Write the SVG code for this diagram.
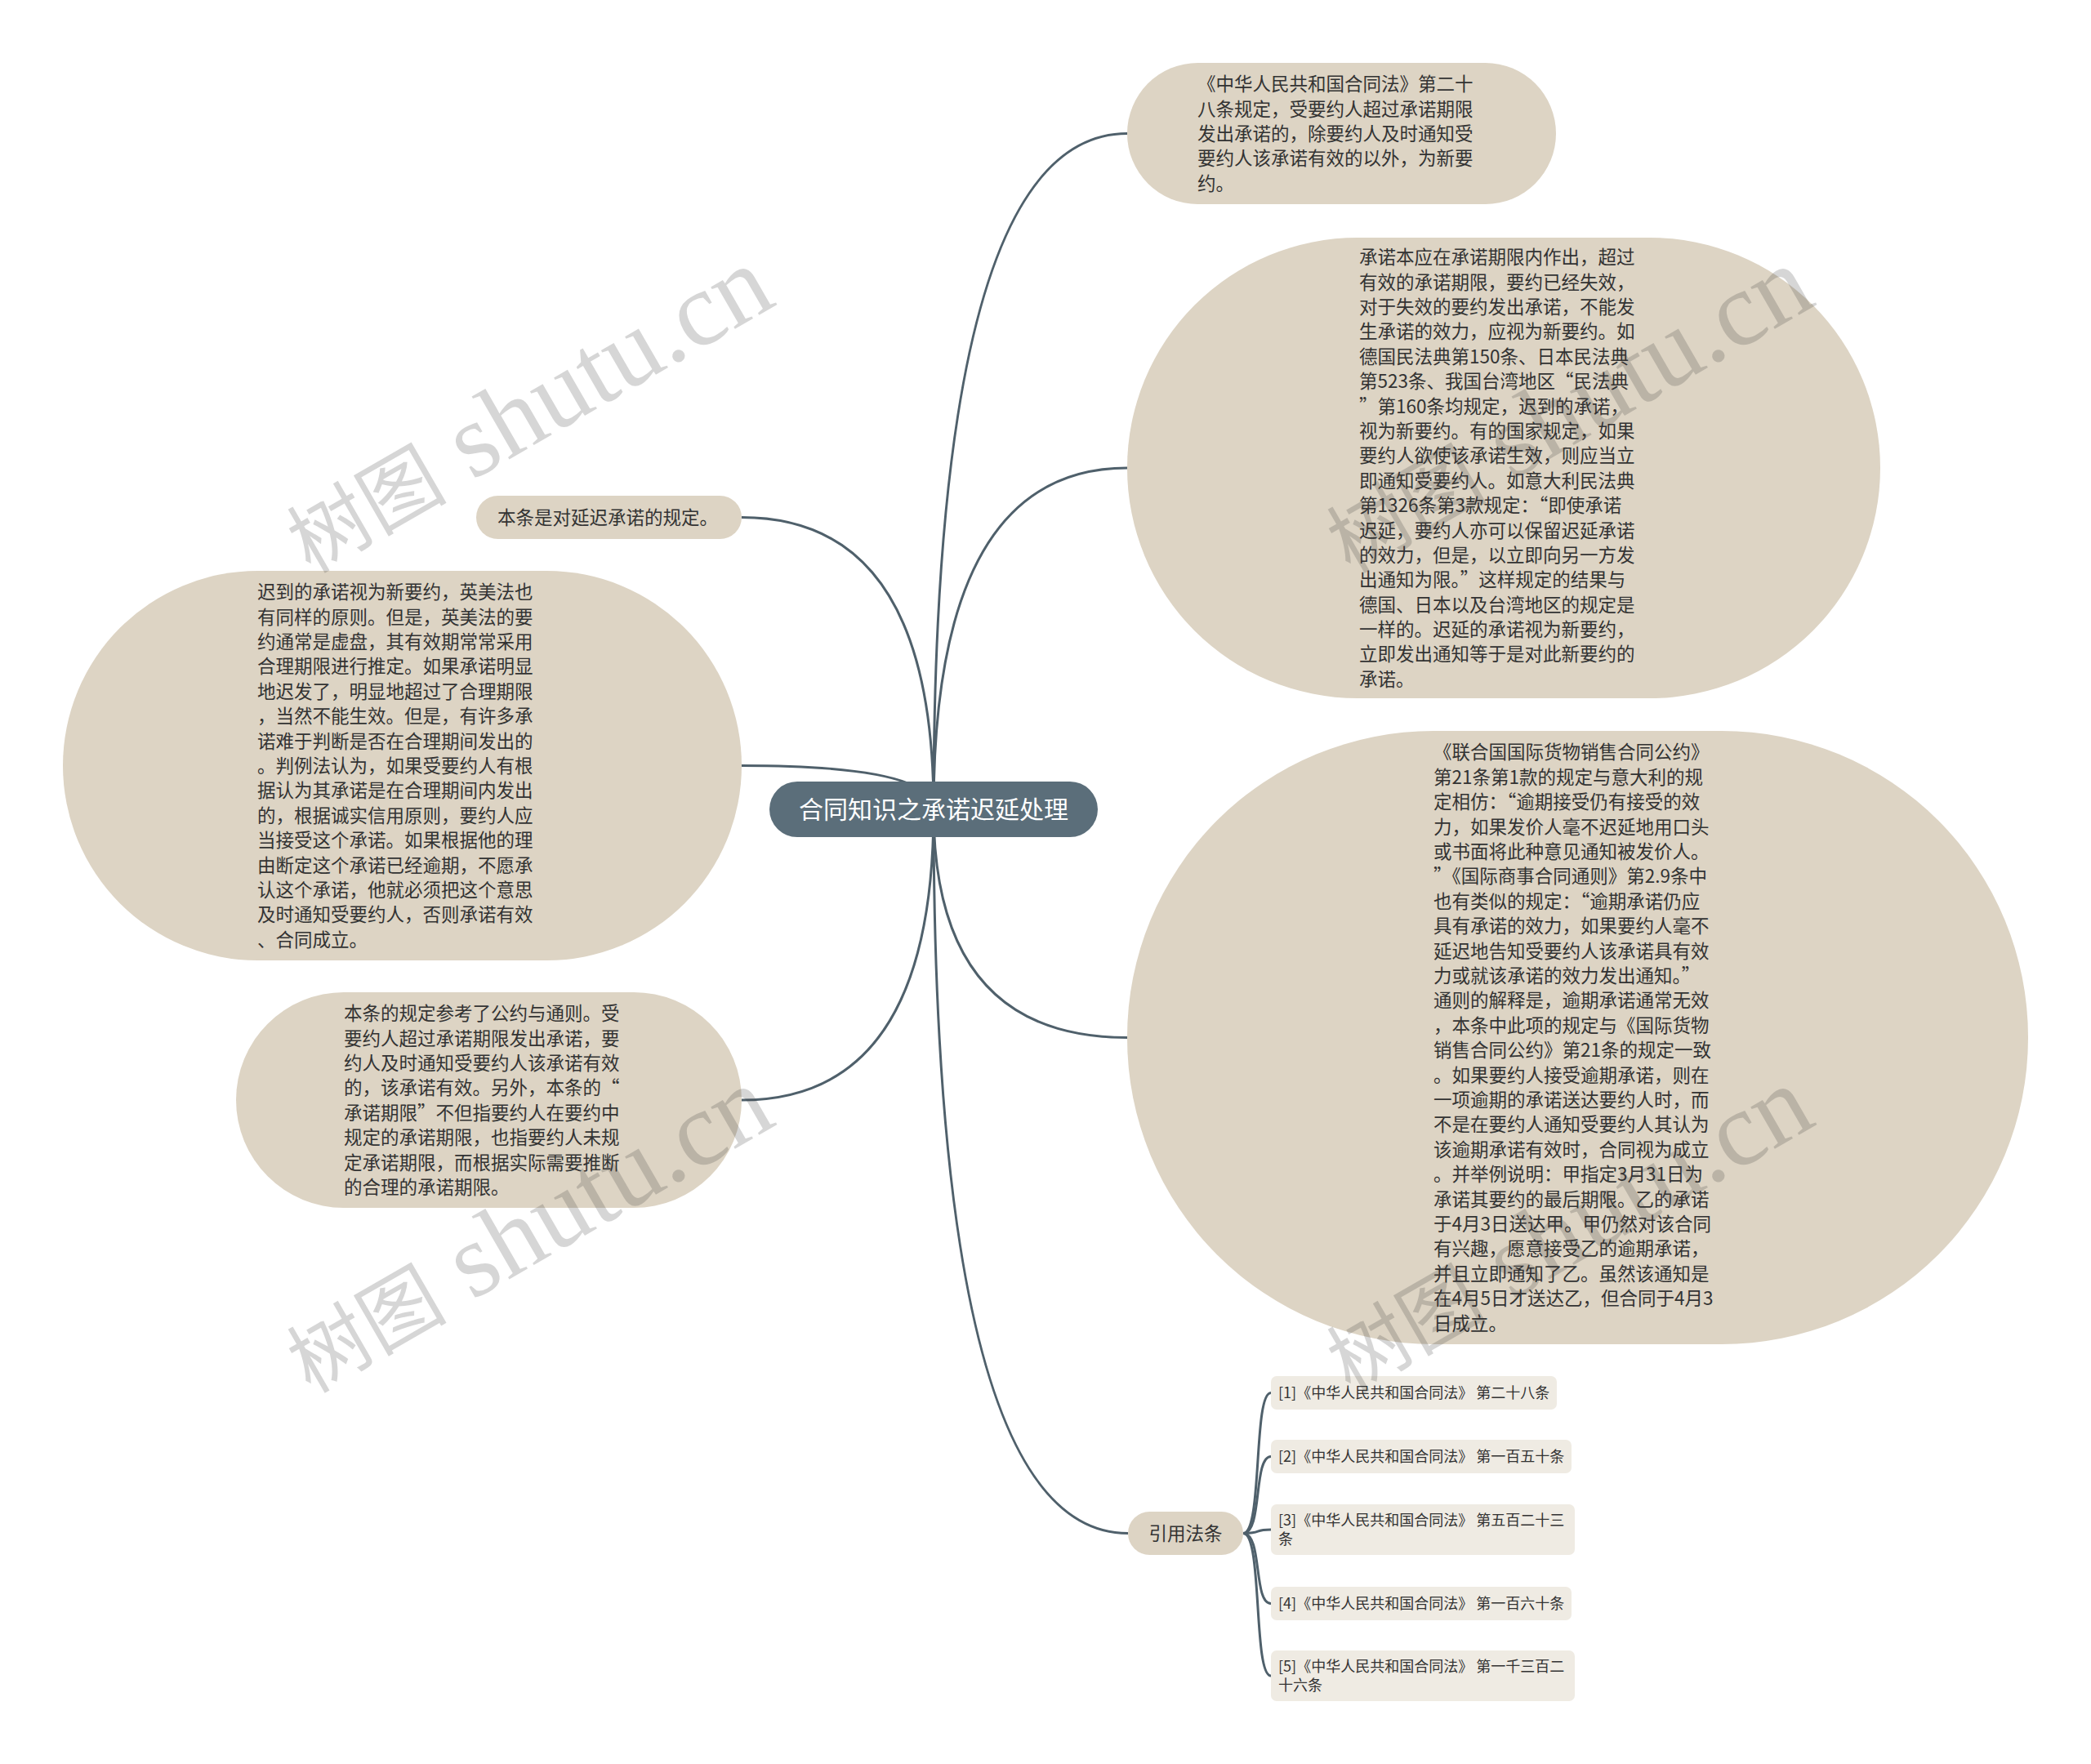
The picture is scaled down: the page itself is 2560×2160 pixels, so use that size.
<svg xmlns="http://www.w3.org/2000/svg" width="2560" height="2160" viewBox="0 0 2560 2160">
<style>
.bg{fill:#ffffff}
.topic{fill:#ddd4c4}
.root{fill:#5b6e7a}
.leaf{fill:#efebe3}
.t{font-family:"Noto Sans CJK SC","Liberation Sans",sans-serif;font-size:22.5px;fill:#333333}
.rt{font-family:"Noto Sans CJK SC","Liberation Sans",sans-serif;font-size:30px;fill:#ffffff}
.st{font-family:"Noto Sans CJK SC","Liberation Sans",sans-serif;font-size:18px;fill:#333333}
.link{fill:none;stroke:#4f606b;stroke-width:3}
.wm{font-family:"Liberation Serif","Noto Sans CJK SC",serif;fill:#333333;fill-opacity:0.2}
</style>
<rect class="bg" x="0" y="0" width="2560" height="2160"/>
<g id="connectors">
<path class="link" d="M1143 991 Q1143 163.5 1380 163.5"/>
<path class="link" d="M1143 991 Q1143 573 1380 573"/>
<path class="link" d="M1143 991 Q1143 1270.5 1380 1270.5"/>
<path class="link" d="M1143 991 Q1143 1877.5 1381 1877.5"/>
<path class="link" d="M1143 991 Q1143 633.5 908 633.5"/>
<path class="link" d="M1143 991 Q1143 937.5 908 937.5"/>
<path class="link" d="M1143 991 Q1143 1347 908 1347"/>
<path class="link" d="M1522 1877.5 C1546 1877.5 1534 1705.5 1556 1705.5"/>
<path class="link" d="M1522 1877.5 C1546 1877.5 1534 1783.5 1556 1783.5"/>
<path class="link" d="M1522 1877.5 C1546 1877.5 1534 1873 1556 1873"/>
<path class="link" d="M1522 1877.5 C1546 1877.5 1534 1963.5 1556 1963.5"/>
<path class="link" d="M1522 1877.5 C1546 1877.5 1534 2052 1556 2052"/>
</g>
<g id="root">
<rect class="root" x="942" y="957" width="402" height="68" rx="34"/>
<text class="rt" x="1143" y="1002" text-anchor="middle">合同知识之承诺迟延处理</text>
</g>
<g id="node1">
<rect class="topic" x="1380" y="77" width="525" height="173" rx="86.5"/>
<text class="t" x="1466" y="111.2"><tspan x="1466" dy="0">《中华人民共和国合同法》第二十</tspan><tspan x="1466" dy="30.4">八条规定，受要约人超过承诺期限</tspan><tspan x="1466" dy="30.4">发出承诺的，除要约人及时通知受</tspan><tspan x="1466" dy="30.4">要约人该承诺有效的以外，为新要</tspan><tspan x="1466" dy="30.4">约。</tspan></text>
</g>
<g id="node2">
<rect class="topic" x="1380" y="291" width="922" height="564" rx="282"/>
<text class="t" x="1664" y="323.1"><tspan x="1664" dy="0">承诺本应在承诺期限内作出，超过</tspan><tspan x="1664" dy="30.4">有效的承诺期限，要约已经失效，</tspan><tspan x="1664" dy="30.4">对于失效的要约发出承诺，不能发</tspan><tspan x="1664" dy="30.4">生承诺的效力，应视为新要约。如</tspan><tspan x="1664" dy="30.4">德国民法典第150条、日本民法典</tspan><tspan x="1664" dy="30.4">第523条、我国台湾地区“民法典</tspan><tspan x="1664" dy="30.4">”第160条均规定，迟到的承诺，</tspan><tspan x="1664" dy="30.4">视为新要约。有的国家规定，如果</tspan><tspan x="1664" dy="30.4">要约人欲使该承诺生效，则应当立</tspan><tspan x="1664" dy="30.4">即通知受要约人。如意大利民法典</tspan><tspan x="1664" dy="30.4">第1326条第3款规定：“即使承诺</tspan><tspan x="1664" dy="30.4">迟延，要约人亦可以保留迟延承诺</tspan><tspan x="1664" dy="30.4">的效力，但是，以立即向另一方发</tspan><tspan x="1664" dy="30.4">出通知为限。”这样规定的结果与</tspan><tspan x="1664" dy="30.4">德国、日本以及台湾地区的规定是</tspan><tspan x="1664" dy="30.4">一样的。迟延的承诺视为新要约，</tspan><tspan x="1664" dy="30.4">立即发出通知等于是对此新要约的</tspan><tspan x="1664" dy="30.4">承诺。</tspan></text>
</g>
<g id="node3">
<rect class="topic" x="1380" y="895" width="1103" height="751" rx="375"/>
<text class="t" x="1755" y="929.4"><tspan x="1755" dy="0">《联合国国际货物销售合同公约》</tspan><tspan x="1755" dy="30.4">第21条第1款的规定与意大利的规</tspan><tspan x="1755" dy="30.4">定相仿：“逾期接受仍有接受的效</tspan><tspan x="1755" dy="30.4">力，如果发价人毫不迟延地用口头</tspan><tspan x="1755" dy="30.4">或书面将此种意见通知被发价人。</tspan><tspan x="1755" dy="30.4">”《国际商事合同通则》第2.9条中</tspan><tspan x="1755" dy="30.4">也有类似的规定：“逾期承诺仍应</tspan><tspan x="1755" dy="30.4">具有承诺的效力，如果要约人毫不</tspan><tspan x="1755" dy="30.4">延迟地告知受要约人该承诺具有效</tspan><tspan x="1755" dy="30.4">力或就该承诺的效力发出通知。”</tspan><tspan x="1755" dy="30.4">通则的解释是，逾期承诺通常无效</tspan><tspan x="1755" dy="30.4">，本条中此项的规定与《国际货物</tspan><tspan x="1755" dy="30.4">销售合同公约》第21条的规定一致</tspan><tspan x="1755" dy="30.4">。如果要约人接受逾期承诺，则在</tspan><tspan x="1755" dy="30.4">一项逾期的承诺送达要约人时，而</tspan><tspan x="1755" dy="30.4">不是在要约人通知受要约人其认为</tspan><tspan x="1755" dy="30.4">该逾期承诺有效时，合同视为成立</tspan><tspan x="1755" dy="30.4">。并举例说明：甲指定3月31日为</tspan><tspan x="1755" dy="30.4">承诺其要约的最后期限。乙的承诺</tspan><tspan x="1755" dy="30.4">于4月3日送达甲。甲仍然对该合同</tspan><tspan x="1755" dy="30.4">有兴趣，愿意接受乙的逾期承诺，</tspan><tspan x="1755" dy="30.4">并且立即通知了乙。虽然该通知是</tspan><tspan x="1755" dy="30.4">在4月5日才送达乙，但合同于4月3</tspan><tspan x="1755" dy="30.4">日成立。</tspan></text>
</g>
<g id="node4">
<rect class="topic" x="583" y="607" width="325" height="53" rx="26.5"/>
<text class="t" x="609" y="642">本条是对延迟承诺的规定。</text>
</g>
<g id="node5">
<rect class="topic" x="77" y="699" width="831" height="477" rx="238.5"/>
<text class="t" x="315" y="733.2"><tspan x="315" dy="0">迟到的承诺视为新要约，英美法也</tspan><tspan x="315" dy="30.4">有同样的原则。但是，英美法的要</tspan><tspan x="315" dy="30.4">约通常是虚盘，其有效期常常采用</tspan><tspan x="315" dy="30.4">合理期限进行推定。如果承诺明显</tspan><tspan x="315" dy="30.4">地迟发了，明显地超过了合理期限</tspan><tspan x="315" dy="30.4">，当然不能生效。但是，有许多承</tspan><tspan x="315" dy="30.4">诺难于判断是否在合理期间发出的</tspan><tspan x="315" dy="30.4">。判例法认为，如果受要约人有根</tspan><tspan x="315" dy="30.4">据认为其承诺是在合理期间内发出</tspan><tspan x="315" dy="30.4">的，根据诚实信用原则，要约人应</tspan><tspan x="315" dy="30.4">当接受这个承诺。如果根据他的理</tspan><tspan x="315" dy="30.4">由断定这个承诺已经逾期，不愿承</tspan><tspan x="315" dy="30.4">认这个承诺，他就必须把这个意思</tspan><tspan x="315" dy="30.4">及时通知受要约人，否则承诺有效</tspan><tspan x="315" dy="30.4">、合同成立。</tspan></text>
</g>
<g id="node6">
<rect class="topic" x="289" y="1215" width="619" height="264" rx="132"/>
<text class="t" x="421" y="1249.1"><tspan x="421" dy="0">本条的规定参考了公约与通则。受</tspan><tspan x="421" dy="30.4">要约人超过承诺期限发出承诺，要</tspan><tspan x="421" dy="30.4">约人及时通知受要约人该承诺有效</tspan><tspan x="421" dy="30.4">的，该承诺有效。另外，本条的“</tspan><tspan x="421" dy="30.4">承诺期限”不但指要约人在要约中</tspan><tspan x="421" dy="30.4">规定的承诺期限，也指要约人未规</tspan><tspan x="421" dy="30.4">定承诺期限，而根据实际需要推断</tspan><tspan x="421" dy="30.4">的合理的承诺期限。</tspan></text>
</g>
<g id="node7">
<rect class="topic" x="1381" y="1851" width="141" height="53" rx="26.5"/>
<text class="t" x="1451.5" y="1886" text-anchor="middle">引用法条</text>
</g>
<g id="ref1">
<rect class="leaf" x="1556" y="1685" width="350" height="41" rx="7"/>
<text class="st" x="1565" y="1712">[1]《中华人民共和国合同法》 第二十八条</text>
</g>
<g id="ref2">
<rect class="leaf" x="1556" y="1763" width="368" height="41" rx="7"/>
<text class="st" x="1565" y="1790">[2]《中华人民共和国合同法》 第一百五十条</text>
</g>
<g id="ref3">
<rect class="leaf" x="1556" y="1842" width="372" height="62" rx="7"/>
<text class="st" x="1565" y="1868"><tspan x="1565" dy="0">[3]《中华人民共和国合同法》 第五百二十三</tspan><tspan x="1565" dy="23">条</tspan></text>
</g>
<g id="ref4">
<rect class="leaf" x="1556" y="1943" width="368" height="41" rx="7"/>
<text class="st" x="1565" y="1970">[4]《中华人民共和国合同法》 第一百六十条</text>
</g>
<g id="ref5">
<rect class="leaf" x="1556" y="2021" width="372" height="62" rx="7"/>
<text class="st" x="1565" y="2047"><tspan x="1565" dy="0">[5]《中华人民共和国合同法》 第一千三百二</tspan><tspan x="1565" dy="23">十六条</tspan></text>
</g>
<g id="watermarks">
<text class="wm" x="380" y="703" transform="rotate(-30 380 703)"><tspan font-size="98">树图</tspan><tspan font-size="129"> shutu.cn</tspan></text>
<text class="wm" x="380" y="1707" transform="rotate(-30 380 1707)"><tspan font-size="98">树图</tspan><tspan font-size="129"> shutu.cn</tspan></text>
<text class="wm" x="1653" y="703" transform="rotate(-30 1653 703)"><tspan font-size="98">树图</tspan><tspan font-size="129"> shutu.cn</tspan></text>
<text class="wm" x="1653" y="1707" transform="rotate(-30 1653 1707)"><tspan font-size="98">树图</tspan><tspan font-size="129"> shutu.cn</tspan></text>
</g>
</svg>
